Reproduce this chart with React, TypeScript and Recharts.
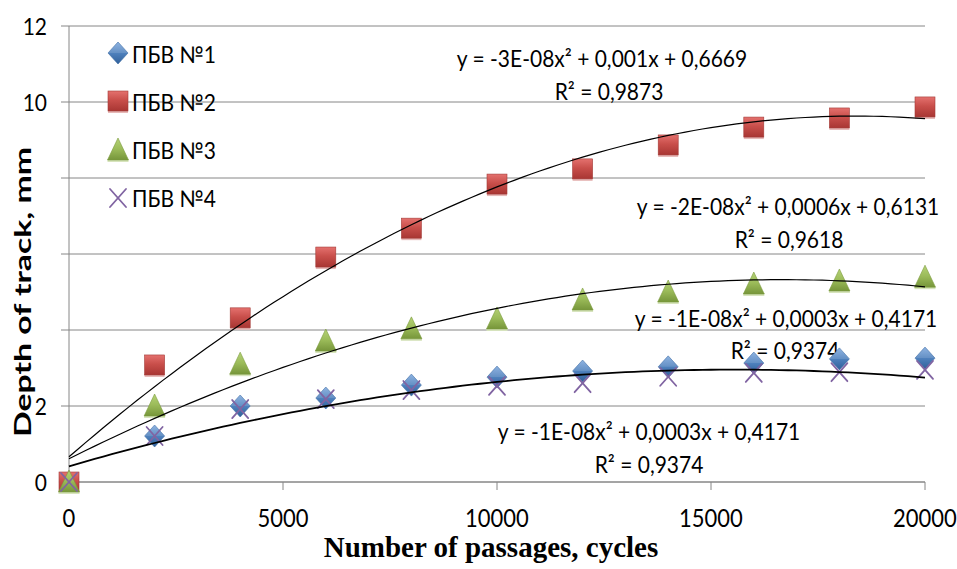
import React from 'react';
import { ScatterChart, Scatter, XAxis, YAxis, CartesianGrid, Legend, Customized } from 'recharts';

// ---------- data ----------
const passages = [0, 2000, 4000, 6000, 8000, 10000, 12000, 14000, 16000, 18000, 20000];
const pbv1 = [0, 1.21, 2.0, 2.21, 2.55, 2.76, 2.92, 3.03, 3.13, 3.24, 3.26];
const pbv2 = [0, 3.08, 4.32, 5.92, 6.68, 7.84, 8.24, 8.87, 9.34, 9.58, 9.87];
const pbv3 = [0, 2.0, 3.1, 3.71, 4.03, 4.29, 4.79, 5.0, 5.21, 5.29, 5.39];
const pbv4 = [0, 1.21, 1.92, 2.18, 2.42, 2.53, 2.6, 2.77, 2.87, 2.89, 2.95];
const seriesNames = ['ПБВ №1', 'ПБВ №2', 'ПБВ №3', 'ПБВ №4'];
const xTicks = [0, 5000, 10000, 15000, 20000];
const yTicks = [0, 2, 4, 6, 8, 10, 12];
const yTickLabelsShown = [0, 2, 10, 12];
const equationTexts = [
  'y = -3E-08x² + 0,001x + 0,6669',
  'y = -2E-08x² + 0,0006x + 0,6131',
  'y = -1E-08x² + 0,0003x + 0,4171',
  'y = -1E-08x² + 0,0003x + 0,4171',
];
const r2Texts = ['R² = 0,9873', 'R² = 0,9618', 'R² = 0,9374', 'R² = 0,9374'];
const xTitle = 'Number of passages, cycles';
const yTitle = 'Depth of track, mm';

// ---------- layout ----------
const W = 957;
const H = 569;
const PLOT_LEFT = 69;
const PLOT_RIGHT = 925;
const PLOT_TOP = 26;
const PLOT_BOTTOM = 482;
const FONT = 'Lato, "Open Sans", sans-serif';
const GRID = '#868686';
const SY = 1.1; // slight vertical elongation of glyphs, as in the reference

const eqPos = [
  { ex: 602, ey: 58, rx: 609, ry: 91 },
  { ex: 788, ey: 206, rx: 789, ry: 239 },
  { ex: 786, ey: 318, rx: 785, ry: 350 },
  { ex: 649, ey: 431, rx: 649, ry: 464 },
];

const toPoints = (ys: number[]) => passages.map((x, i) => ({ x, y: ys[i] }));

// least squares quadratic fit (Excel polynomial trendline, order 2)
function fitQuadratic(xs: number[], ys: number[]) {
  const s = (p: number, q: number) => xs.reduce((acc, x, i) => acc + Math.pow(x, p) * Math.pow(ys[i], q), 0);
  const M = [
    [s(0, 0), s(1, 0), s(2, 0), s(0, 1)],
    [s(1, 0), s(2, 0), s(3, 0), s(1, 1)],
    [s(2, 0), s(3, 0), s(4, 0), s(2, 1)],
  ];
  for (let c = 0; c < 3; c++) {
    let piv = c;
    for (let r = c + 1; r < 3; r++) if (Math.abs(M[r][c]) > Math.abs(M[piv][c])) piv = r;
    [M[c], M[piv]] = [M[piv], M[c]];
    for (let r = 0; r < 3; r++) {
      if (r === c) continue;
      const f = M[r][c] / M[c][c];
      for (let k = c; k < 4; k++) M[r][k] -= f * M[c][k];
    }
  }
  return [M[0][3] / M[0][0], M[1][3] / M[1][1], M[2][3] / M[2][2]];
}

const trendOf = (ys: number[]) => {
  const xs = passages.map((x) => x / 1000);
  const [a, b, c] = fitQuadratic(xs, ys);
  const pts: { x: number; y: number }[] = [];
  for (let i = 0; i <= 100; i++) {
    const t = (20 * i) / 100;
    pts.push({ x: t * 1000, y: a + b * t + c * t * t });
  }
  return pts;
};

// ---------- markers ----------
const Diamond = ({ cx, cy }: any) => (
  <g>
    <polygon points={`${cx},${cy - 11} ${cx + 10},${cy} ${cx},${cy + 11} ${cx - 10},${cy}`} fill="url(#gBlue)" stroke="#3a6aa3" strokeWidth={0.6} />
    <polygon points={`${cx},${cy - 11} ${cx + 10},${cy} ${cx - 10},${cy}`} fill="#ffffff" opacity={0.12} />
  </g>
);
const Square = ({ cx, cy }: any) => (
  <g>
    <rect x={cx - 10} y={cy + 9} width={20} height={3} fill="#e6b9b8" />
    <rect x={cx - 10} y={cy - 10} width={20} height={20} fill="url(#gRed)" stroke="#a33a37" strokeWidth={0.6} />
  </g>
);
const Triangle = ({ cx, cy }: any) => (
  <g>
    <rect x={cx - 10.5} y={cy + 9} width={21} height={3} fill="#d7e4bd" />
    <polygon points={`${cx},${cy - 12} ${cx + 10.5},${cy + 10} ${cx - 10.5},${cy + 10}`} fill="url(#gGreen)" stroke="#7a9a3c" strokeWidth={0.6} />
  </g>
);
const Cross = ({ cx, cy }: any) => (
  <g stroke="#8064A2" strokeWidth={1.8} strokeLinecap="round">
    <line x1={cx - 8} y1={cy - 9} x2={cx + 8} y2={cy + 9} />
    <line x1={cx - 8} y1={cy + 9} x2={cx + 8} y2={cy - 9} />
  </g>
);
const NoShape = () => <g />;

const markerByName: Record<string, any> = {
  [seriesNames[0]]: Diamond,
  [seriesNames[1]]: Square,
  [seriesNames[2]]: Triangle,
  [seriesNames[3]]: Cross,
};

const TallText = ({ x, y, anchor = 'middle', size = 21, children }: any) => (
  <text
    x={0}
    y={0}
    transform={`translate(${x} ${y}) scale(1 ${SY})`}
    textAnchor={anchor}
    dominantBaseline="central"
    fontFamily={FONT}
    fontSize={size}
    fill="#000"
  >
    {children}
  </text>
);

// ---------- ticks ----------
const XTick = ({ x, payload }: any) => (
  <TallText x={x} y={PLOT_BOTTOM + 36} size={22}>
    {payload.value}
  </TallText>
);
const YTick = ({ y, payload }: any) =>
  yTickLabelsShown.includes(payload.value) ? (
    <TallText x={47} y={y} anchor="end" size={21}>
      {payload.value}
    </TallText>
  ) : (
    <g />
  );

// ---------- legend ----------
const renderLegend = (props: any) => {
  const items = (props.payload || []).filter((p: any) => seriesNames.includes(p.value));
  return (
    <div style={{ position: 'relative', width: 200, height: 220 }}>
      {items.map((p: any, i: number) => {
        const M = markerByName[p.value];
        return (
          <div key={p.value} style={{ position: 'absolute', left: 0, top: i * 48.3, height: 30, display: 'flex', alignItems: 'center' }}>
            <svg width={26} height={30} style={{ overflow: 'visible' }}>
              <M cx={13} cy={15} />
            </svg>
            <span style={{ fontFamily: FONT, fontSize: 21, color: '#000', marginLeft: 1, whiteSpace: 'nowrap', display: 'inline-block', transform: `scaleY(${SY})` }}>
              {p.value}
            </span>
          </div>
        );
      })}
    </div>
  );
};

// ---------- annotations ----------
const Annotations = () => (
  <g>
    {equationTexts.map((t, i) => (
      <g key={i}>
        <TallText x={eqPos[i].ex} y={eqPos[i].ey}>{t}</TallText>
        <TallText x={eqPos[i].rx} y={eqPos[i].ry}>{r2Texts[i]}</TallText>
      </g>
    ))}
    <text
      x={22}
      y={292}
      transform="rotate(-90 22 292)"
      textAnchor="middle"
      dominantBaseline="central"
      fontFamily={FONT}
      fontWeight="bold"
      fontSize={23}
      textLength={290}
      lengthAdjust="spacingAndGlyphs"
      fill="#000"
    >
      {yTitle}
    </text>
    <text
      x={491}
      y={547}
      textAnchor="middle"
      dominantBaseline="central"
      fontFamily='"Liberation Serif", "Times New Roman", serif'
      fontWeight="bold"
      fontSize={29}
      fill="#000"
    >
      {xTitle}
    </text>
  </g>
);

export default function App() {
  const s1 = toPoints(pbv1);
  const s2 = toPoints(pbv2);
  const s3 = toPoints(pbv3);
  const s4 = toPoints(pbv4);
  const t2 = trendOf(pbv2);
  const t3 = trendOf(pbv3);
  const t4 = trendOf(pbv4);
  return (
    <div style={{ position: 'absolute', left: 0, top: 0, width: W, height: H, background: '#fff' }}>
      <svg width={0} height={0} style={{ position: 'absolute' }}>
        <defs>
          <linearGradient id="gBlue" x1="0" y1="0" x2="0" y2="1">
            <stop offset="0%" stopColor="#7fa9dd" />
            <stop offset="50%" stopColor="#4f81bd" />
            <stop offset="100%" stopColor="#30609a" />
          </linearGradient>
          <linearGradient id="gRed" x1="0" y1="0" x2="0" y2="1">
            <stop offset="0%" stopColor="#e4716e" />
            <stop offset="45%" stopColor="#c94f4b" />
            <stop offset="100%" stopColor="#a83633" />
          </linearGradient>
          <linearGradient id="gGreen" x1="0" y1="0" x2="0" y2="1">
            <stop offset="0%" stopColor="#b5d276" />
            <stop offset="50%" stopColor="#9bbb59" />
            <stop offset="100%" stopColor="#76953a" />
          </linearGradient>
        </defs>
      </svg>
      <ScatterChart width={W} height={H} margin={{ top: PLOT_TOP, right: W - PLOT_RIGHT, bottom: 0, left: 0 }}>
        <CartesianGrid vertical={false} stroke={GRID} strokeWidth={1} horizontalValues={yTicks} />
        <XAxis
          type="number"
          dataKey="x"
          domain={[0, 20000]}
          ticks={xTicks}
          interval={0}
          height={H - PLOT_BOTTOM}
          tickSize={8}
          tickLine={{ stroke: GRID }}
          axisLine={{ stroke: GRID }}
          tick={<XTick />}
        />
        <YAxis
          type="number"
          dataKey="y"
          domain={[0, 12]}
          ticks={yTicks}
          interval={0}
          width={PLOT_LEFT}
          tickSize={8}
          tickLine={{ stroke: GRID }}
          axisLine={{ stroke: GRID }}
          tick={<YTick />}
        />
        <Legend
          layout="vertical"
          align="center"
          verticalAlign="middle"
          wrapperStyle={{ left: 105, top: 38, width: 200, height: 220 }}
          content={renderLegend}
        />
        <Scatter name={seriesNames[0]} data={s1} shape={<Diamond />} isAnimationActive={false} fill="#4F81BD" />
        <Scatter name={seriesNames[1]} data={s2} shape={<Square />} isAnimationActive={false} fill="#C0504D" />
        <Scatter name={seriesNames[2]} data={s3} shape={<Triangle />} isAnimationActive={false} fill="#9BBB59" />
        <Scatter name={seriesNames[3]} data={s4} shape={<Cross />} isAnimationActive={false} fill="#8064A2" />
        <Scatter name="trend2" data={t2} shape={<NoShape />} line={{ stroke: '#000', strokeWidth: 1.2 }} lineType="joint" legendType="none" isAnimationActive={false} />
        <Scatter name="trend3" data={t3} shape={<NoShape />} line={{ stroke: '#000', strokeWidth: 1.2 }} lineType="joint" legendType="none" isAnimationActive={false} />
        <Scatter name="trend4" data={t4} shape={<NoShape />} line={{ stroke: '#000', strokeWidth: 1.8 }} lineType="joint" legendType="none" isAnimationActive={false} />
        <Customized component={Annotations} />
      </ScatterChart>
    </div>
  );
}
